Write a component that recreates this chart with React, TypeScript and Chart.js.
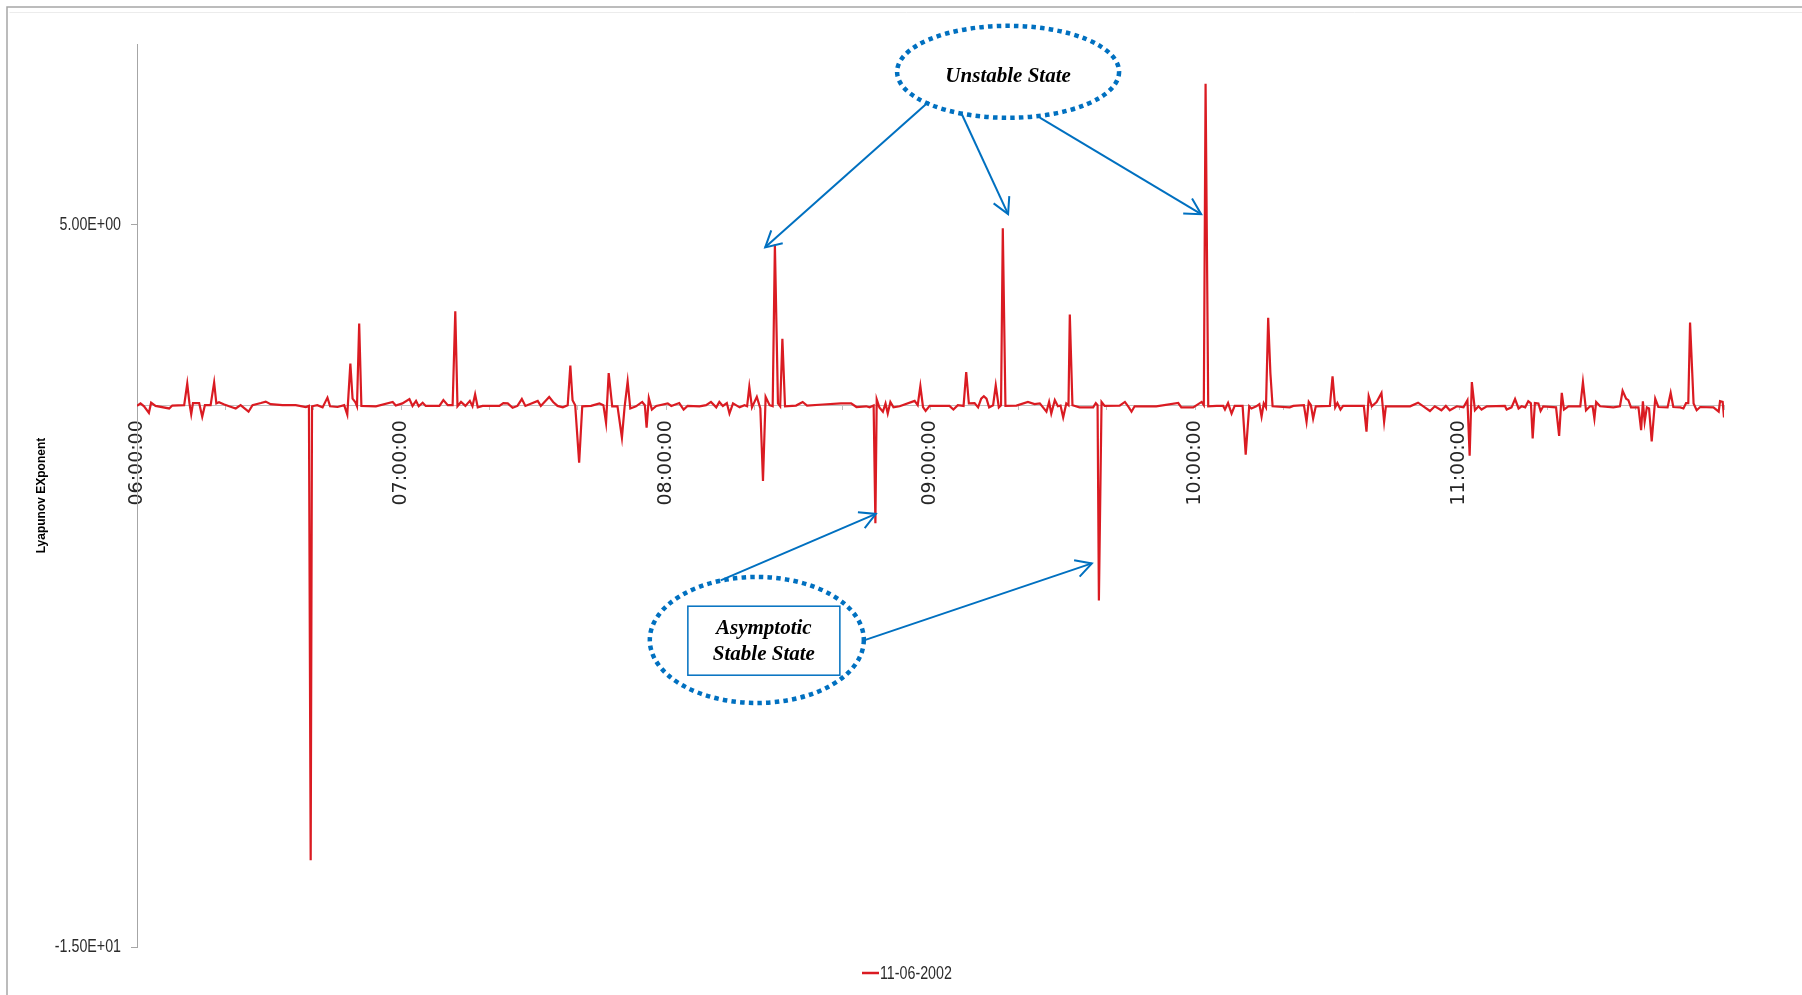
import { useEffect, useRef } from 'react';
import { Chart, registerables } from 'chart.js';

Chart.register(...registerables);

// Series: Lyapunov exponent sampled through the morning of 11-06-2002.
// Time axis is minutes after 06:00:00.
const seriesLabel = '11-06-2002';

const minutesAfterSix: number[] = [
  0.0, 0.8, 1.6, 2.7, 3.2, 4.2, 7.3, 8.0, 10.7, 11.4, 11.9, 12.3, 12.7, 14.1, 14.8, 15.4, 16.7, 17.5, 18.0, 18.6,
  19.8, 20.9, 22.4, 23.5, 25.3, 26.2, 28.1, 29.2, 30.3, 33.0, 36.0, 38.3, 39.0, 39.4, 39.7, 40.9, 42.1, 43.2, 43.8, 45.5,
  47.0, 47.7, 48.4, 48.9, 49.5, 49.9, 50.4, 50.9, 54.2, 58.0, 58.7, 60.2, 61.8, 62.5, 63.3, 63.9, 64.8, 65.5, 68.6, 69.5,
  70.5, 71.6, 72.2, 72.7, 73.5, 74.5, 75.5, 76.1, 76.7, 77.3, 78.4, 82.2, 83.1, 84.1, 85.2, 86.3, 87.3, 88.1, 90.9, 91.6,
  93.5, 94.4, 95.4, 96.6, 97.7, 98.3, 98.8, 99.4, 100.3, 101.0, 103.0, 104.9, 105.8, 106.4, 107.0, 107.8, 109.0, 110.0, 110.6, 111.3,
  111.9, 113.2, 114.6, 115.2, 115.6, 116.1, 116.8, 117.8, 120.4, 121.2, 123.0, 124.0, 124.9, 127.6, 129.1, 130.2, 131.4, 132.1, 132.9, 133.8,
  134.4, 135.2, 136.7, 137.8, 138.4, 138.9, 139.5, 140.6, 141.4, 142.0, 142.6, 143.5, 144.2, 144.7, 145.4, 145.9, 146.4, 147.0, 149.5, 151.0,
  152.0, 155.6, 159.7, 162.0, 163.2, 165.4, 166.2, 167.1, 167.5, 167.8, 168.4, 169.2, 169.8, 170.3, 170.9, 171.6, 173.0, 176.4, 177.1, 177.7,
  178.3, 178.9, 179.8, 182.1, 184.3, 185.2, 186.2, 187.5, 188.1, 188.7, 190.0, 190.8, 191.5, 192.1, 192.7, 193.3, 194.2, 194.8, 195.5, 196.0,
  196.4, 197.0, 199.5, 202.1, 203.6, 204.8, 206.3, 206.9, 207.4, 208.2, 208.9, 209.5, 210.1, 210.8, 211.3, 211.6, 212.2, 213.8, 216.9, 217.5,
  217.9, 218.2, 218.8, 219.5, 222.9, 224.1, 225.0, 225.6, 226.3, 231.2, 236.2, 236.9, 239.6, 241.5, 242.0, 242.4, 243.0, 244.9, 246.4, 246.8,
  247.5, 248.3, 249.0, 250.8, 251.5, 252.3, 252.8, 253.9, 254.6, 255.1, 255.6, 256.1, 256.6, 257.1, 257.6, 261.5, 262.3, 264.7, 265.3, 265.8,
  266.3, 266.8, 267.4, 270.6, 271.2, 271.8, 272.3, 273.0, 273.6, 278.3, 278.9, 279.4, 280.1, 281.2, 282.3, 282.9, 283.3, 288.8, 290.6, 291.8,
  293.3, 294.4, 295.9, 296.9, 297.8, 299.4, 300.9, 301.8, 302.3, 302.8, 303.5, 304.3, 305.0, 306.2, 310.3, 310.7, 311.8, 312.6, 313.4, 314.1,
  314.9, 315.6, 316.2, 316.6, 317.1, 317.9, 318.4, 319.0, 321.9, 322.6, 323.2, 323.7, 324.7, 327.4, 328.0, 328.7, 329.6, 330.2, 330.6, 331.0,
  331.9, 334.9, 336.4, 337.0, 337.8, 338.3, 338.9, 340.6, 341.2, 341.6, 342.0, 342.5, 343.0, 343.6, 344.4, 345.1, 347.2, 347.9, 348.5, 350.1,
  350.8, 351.4, 351.9, 352.3, 353.1, 353.8, 354.6, 357.6, 358.8, 359.1, 359.7, 360.0,
];

const lyapunovExponent: number[] = [
  -0.02, 0.05, -0.03, -0.21, 0.07, -0.02, -0.09, -0.01, 0, 0.6, 0.05, -0.25, 0.06, 0.06, -0.32, 0, 0, 0.63, 0.05, 0.08,
  0.02, -0.03, -0.09, 0, -0.18, 0, 0.06, 0.1, 0.03, 0, 0, -0.05, -0.02, -12.6, -0.03, 0, -0.06, 0.21, -0.03, -0.05,
  0, -0.26, 1.15, 0.18, 0.09, -0.03, 2.26, -0.02, -0.03, 0.09, -0.01, 0.05, 0.17, -0.02, 0.12, -0.03, 0.07, -0.02, -0.02, 0.14,
  0, 0, 2.6, -0.03, 0.09, -0.02, 0.12, -0.03, 0.3, -0.06, -0.02, -0.02, 0.06, 0.05, -0.07, -0.02, 0.17, -0.02, 0.12, -0.02,
  0.23, 0.09, -0.02, -0.06, 0, 1.1, 0.14, 0, -1.59, -0.03, -0.02, 0.05, 0, -0.49, 0.89, -0.03, -0.03, -0.9, -0.06, 0.66,
  -0.09, -0.03, 0.09, 0, -0.62, 0.2, -0.12, -0.02, 0.05, -0.02, 0.06, -0.12, -0.02, -0.03, 0, 0.09, -0.06, 0.09, -0.02, 0.06,
  -0.23, 0.05, -0.06, 0, -0.03, 0.51, -0.06, 0.23, -0.09, -2.1, 0.23, 0, -0.03, 4.45, 0.05, -0.03, 1.84, -0.03, -0.01, 0.09,
  -0.01, 0.02, 0.05, 0.05, -0.05, -0.03, -0.06, -0.01, -3.27, 0.16, -0.06, -0.18, 0.05, -0.23, 0.09, -0.06, -0.03, 0.12, 0, 0.53,
  -0.05, -0.16, -0.02, -0.02, -0.02, -0.12, 0, -0.02, 0.92, 0.05, 0.06, -0.06, 0.18, 0.25, 0.18, -0.06, 0, 0.55, -0.06, 0,
  4.9, -0.02, -0.01, 0.09, 0.03, 0.05, -0.18, 0.09, -0.23, 0.14, -0.03, -0.01, -0.34, 0.05, 0, 2.51, 0, -0.06, -0.06, 0.06,
  0, -5.41, 0.09, -0.02, -0.01, 0.09, -0.06, -0.18, -0.03, -0.03, 0.06, -0.06, -0.06, 0.09, 0, 8.9, -0.03, -0.02, -0.02, -0.12,
  0.06, -0.23, -0.02, -0.02, -1.37, -0.03, -0.09, -0.03, 0.03, -0.32, 0.05, -0.06, 2.42, 0.89, -0.03, -0.06, -0.02, 0, -0.46, 0.09,
  0, -0.37, -0.03, -0.02, 0.8, -0.06, 0.06, -0.12, -0.02, -0.02, -0.73, 0.25, -0.03, 0.09, 0.34, -0.46, -0.03, -0.03, 0.07, -0.03,
  -0.16, -0.03, -0.14, -0.02, -0.14, -0.03, -0.06, 0.14, -1.4, 0.64, -0.14, -0.03, -0.12, -0.03, -0.02, -0.12, -0.06, 0.17, -0.09, -0.03,
  -0.06, 0.11, 0.05, -0.92, 0.06, 0.05, -0.16, -0.03, -0.06, -0.85, 0.34, -0.12, -0.03, -0.03, 0.64, -0.14, -0.03, -0.03, -0.37, 0.09,
  -0.03, -0.06, -0.03, 0.4, 0.18, 0.14, -0.06, -0.06, -0.69, 0.11, -0.46, -0.06, -0.09, -1.0, 0.18, -0.05, -0.06, 0.34, -0.05, -0.06,
  -0.09, 0.06, 0.06, 2.29, 0.05, -0.14, -0.05, -0.06, -0.18, 0.11, 0.09, -0.34,
];

// Axis text
const hourLabels = ['06:00:00', '07:00:00', '08:00:00', '09:00:00', '10:00:00', '11:00:00'];
const yTickValues = [-15, 5];
const yAxisTitle = 'Lyapunov EXponent';

// Callouts, anchored in data space (minutes, exponent)
const unstableLines = ['Unstable State'];
const unstableCenter = { t: 197.6, v: 9.23 };
const unstableArrows = [
  { from: [179.6, 8.4], to: [142.5, 4.37] },
  { from: [186.9, 8.11], to: [197.6, 5.29] },
  { from: [204.8, 7.96], to: [241.4, 5.29] },
];
const stableLines = ['Asymptotic', 'Stable State'];
const stableCenter = { t: 140.6, v: -6.5 };
const stableBoxCenter = { t: 142.2, v: -6.52 };
const stableArrows = [
  { from: [132.4, -4.85], to: [167.6, -3.01] },
  { from: [164.9, -6.51], to: [216.6, -4.38] },
];

const LINE_RED = '#DA1B22';
const NOTE_BLUE = '#0070C0';
const SANS = '"Liberation Sans", Arial, sans-serif';
const NOTE_FONT = 'italic bold 21px "Liberation Serif", "Times New Roman", serif';
// Calibri-like narrow text: regular sans squeezed horizontally
const NARROW_SQUEEZE = 0.75;
const NARROW_SIZE = 19;

function excelScientific(v: number): string {
  const [mant, exp] = v.toExponential(2).split('e');
  const e = parseInt(exp, 10);
  return `${mant}E${e < 0 ? '-' : '+'}${String(Math.abs(e)).padStart(2, '0')}`;
}

function narrowText(ctx: CanvasRenderingContext2D, text: string, x: number, y: number) {
  ctx.save();
  ctx.translate(x, y);
  ctx.scale(NARROW_SQUEEZE, 1);
  ctx.fillText(text, 0, 0);
  ctx.restore();
}

function drawArrow(ctx: CanvasRenderingContext2D, x1: number, y1: number, x2: number, y2: number) {
  ctx.beginPath();
  ctx.moveTo(x1, y1);
  ctx.lineTo(x2, y2);
  ctx.stroke();
  const ang = Math.atan2(y2 - y1, x2 - x1);
  const len = 18;
  const spread = 0.5;
  ctx.beginPath();
  ctx.moveTo(x2 - len * Math.cos(ang - spread), y2 - len * Math.sin(ang - spread));
  ctx.lineTo(x2, y2);
  ctx.lineTo(x2 - len * Math.cos(ang + spread), y2 - len * Math.sin(ang + spread));
  ctx.stroke();
}

function dottedEllipse(ctx: CanvasRenderingContext2D, cx: number, cy: number, rx: number, ry: number) {
  ctx.save();
  ctx.strokeStyle = NOTE_BLUE;
  ctx.lineWidth = 4.5;
  ctx.setLineDash([4.5, 4.2]);
  ctx.lineCap = 'butt';
  ctx.beginPath();
  ctx.ellipse(cx, cy, rx, ry, 0, 0, Math.PI * 2);
  ctx.stroke();
  ctx.restore();
}

const calloutPlugin = {
  id: 'callouts',
  beforeDraw(chart: Chart) {
    const { ctx, width, height } = chart;
    ctx.save();
    ctx.fillStyle = '#ffffff';
    ctx.fillRect(0, 0, width, height);
    ctx.strokeStyle = '#a6a6a6';
    ctx.lineWidth = 1.5;
    ctx.beginPath();
    ctx.moveTo(7, height + 2);
    ctx.lineTo(7, 7);
    ctx.lineTo(width + 2, 7);
    ctx.stroke();
    ctx.strokeStyle = '#ececec';
    ctx.lineWidth = 1;
    ctx.beginPath();
    ctx.moveTo(9.5, 12.5);
    ctx.lineTo(width + 2, 12.5);
    ctx.stroke();
    ctx.restore();
  },
  afterDatasetsDraw(chart: Chart) {
    const { ctx } = chart;
    const xs = chart.scales.x;
    const ys = chart.scales.y;
    const px = (t: number) => xs.getPixelForValue(t);
    const py = (v: number) => ys.getPixelForValue(v);

    ctx.save();

    // Value-axis labels (scientific notation), right-aligned beside the tick marks
    ctx.fillStyle = '#2b2b2b';
    ctx.font = `${NARROW_SIZE}px ${SANS}`;
    ctx.textAlign = 'right';
    ctx.textBaseline = 'middle';
    for (const tick of ys.ticks) {
      narrowText(ctx, excelScientific(tick.value), ys.right - 16, py(tick.value));
    }

    // Unstable State callout
    const ux = px(unstableCenter.t);
    const uy = py(unstableCenter.v);
    dottedEllipse(ctx, ux, uy, 111, 46);
    ctx.fillStyle = '#000';
    ctx.font = NOTE_FONT;
    ctx.textAlign = 'center';
    ctx.textBaseline = 'middle';
    ctx.fillText(unstableLines[0], ux, uy + 5);

    ctx.strokeStyle = NOTE_BLUE;
    ctx.lineWidth = 2;
    ctx.setLineDash([]);
    for (const a of unstableArrows) {
      drawArrow(ctx, px(a.from[0]), py(a.from[1]), px(a.to[0]), py(a.to[1]));
    }

    // Asymptotic Stable State callout
    const sx = px(stableCenter.t);
    const sy = py(stableCenter.v);
    dottedEllipse(ctx, sx, sy, 107, 63);
    const bx = px(stableBoxCenter.t);
    const by = py(stableBoxCenter.v);
    ctx.fillStyle = '#ffffff';
    ctx.fillRect(bx - 76, by - 34.5, 152, 69);
    ctx.strokeStyle = NOTE_BLUE;
    ctx.lineWidth = 1.5;
    ctx.strokeRect(bx - 76, by - 34.5, 152, 69);
    ctx.fillStyle = '#000';
    ctx.font = NOTE_FONT;
    ctx.fillText(stableLines[0], bx, by - 12);
    ctx.fillText(stableLines[1], bx, by + 14);

    ctx.strokeStyle = NOTE_BLUE;
    ctx.lineWidth = 2;
    for (const a of stableArrows) {
      drawArrow(ctx, px(a.from[0]), py(a.from[1]), px(a.to[0]), py(a.to[1]));
    }

    // Legend entry below the plot
    const ds = chart.data.datasets[0];
    const lx = 862;
    const ly = 973;
    ctx.strokeStyle = ds.borderColor as string;
    ctx.lineWidth = 2.5;
    ctx.beginPath();
    ctx.moveTo(lx, ly);
    ctx.lineTo(lx + 17, ly);
    ctx.stroke();
    ctx.fillStyle = '#2b2b2b';
    ctx.font = `${NARROW_SIZE}px ${SANS}`;
    ctx.textAlign = 'left';
    ctx.textBaseline = 'middle';
    narrowText(ctx, String(ds.label), lx + 18, ly + 1);
    ctx.restore();
  },
};

export default function App() {
  const canvasRef = useRef<HTMLCanvasElement | null>(null);

  useEffect(() => {
    const canvas = canvasRef.current;
    if (!canvas) return;
    const points = minutesAfterSix.map((t, i) => ({ x: t, y: lyapunovExponent[i] }));

    const chart = new Chart(canvas, {
      type: 'line',
      data: {
        datasets: [
          {
            label: seriesLabel,
            data: points,
            borderColor: LINE_RED,
            backgroundColor: LINE_RED,
            borderWidth: 2.2,
            pointRadius: 0,
            tension: 0,
            fill: false,
          },
        ],
      },
      options: {
        animation: false,
        responsive: false,
        maintainAspectRatio: false,
        devicePixelRatio: 1,
        layout: { padding: { left: 20, top: 44, right: 78, bottom: 48 } },
        plugins: {
          legend: { display: false },
          tooltip: { enabled: false },
        },
        scales: {
          x: {
            type: 'linear',
            min: 0,
            max: 360,
            position: { y: 0 },
            grid: {
              display: true,
              drawOnChartArea: false,
              drawTicks: true,
              tickLength: 4,
              tickColor: '#bfbfbf',
            },
            border: { display: true, color: '#bfbfbf', width: 1 },
            ticks: {
              stepSize: 20,
              autoSkip: false,
              minRotation: 90,
              maxRotation: 90,
              padding: 11,
              color: '#262626',
              font: { family: '"DejaVu Sans", sans-serif', size: 19 },
              callback: (value: number | string) => {
                const m = Number(value);
                if (m % 60 !== 0) return '';
                return hourLabels[m / 60] ?? '';
              },
            },
          },
          y: {
            type: 'linear',
            min: -15,
            max: 10,
            position: 'left',
            afterBuildTicks: (scale: any) => {
              scale.ticks = yTickValues.map((value) => ({ value }));
            },
            afterFit: (scale: any) => {
              scale.width = 117;
            },
            grid: {
              display: true,
              drawOnChartArea: false,
              drawTicks: true,
              tickLength: 6,
              tickColor: '#a6a6a6',
            },
            border: { display: true, color: '#a6a6a6', width: 1 },
            ticks: { display: false },
            title: {
              display: true,
              text: yAxisTitle,
              color: '#000',
              font: { family: SANS, size: 12, weight: 'bold' },
              padding: { top: 14, bottom: 0 },
            },
          },
        },
      },
      plugins: [calloutPlugin],
    });

    return () => chart.destroy();
  }, []);

  return (
    <div style={{ position: 'fixed', left: 0, top: 0, width: 1802, height: 995, background: '#fff' }}>
      <canvas ref={canvasRef} width={1802} height={995} style={{ display: 'block' }} />
    </div>
  );
}
